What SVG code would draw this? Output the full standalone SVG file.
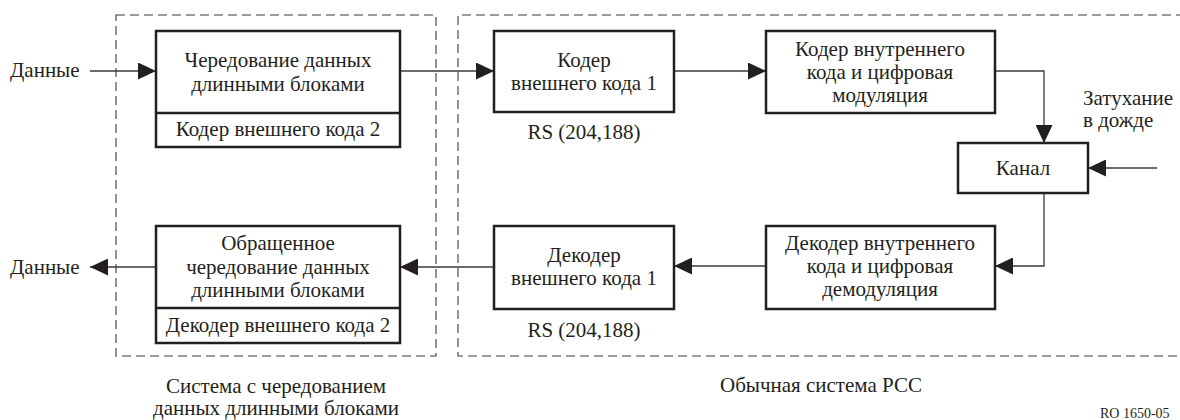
<svg xmlns="http://www.w3.org/2000/svg" width="1180" height="420" viewBox="0 0 1180 420">
<style>
text{font-family:'Liberation Serif','Times New Roman','DejaVu Serif',serif;font-size:21px;fill:#231f20}
.c{text-anchor:middle}
.box{fill:#fff;stroke:#231f20;stroke-width:2.5}
.div{stroke:#231f20;stroke-width:2.5;fill:none}
.dash{fill:none;stroke:#3a3a3a;stroke-width:1.1;stroke-dasharray:9 5}
.ln{fill:none;stroke:#3a3a3a;stroke-width:1.3;marker-end:url(#ah)}
</style>
<defs>
<marker id="ah" viewBox="0 0 18 17" refX="18" refY="8.5" markerWidth="18" markerHeight="17" orient="auto" markerUnits="userSpaceOnUse">
<path d="M0,0 L18,8.5 L0,17 Z" fill="#231f20"/>
</marker>
</defs>
<rect width="1180" height="420" fill="#fff"/>
<g id="frames">
<rect class="dash" x="116" y="15" width="320" height="341"/>
<path class="dash" d="M1185,15 H458 V356 H1185"/>
</g>
<g id="connectors">
<path class="ln" d="M90,71 H156"/>
<path class="ln" d="M400,71 H494"/>
<path class="ln" d="M674,71 H766"/>
<path class="ln" d="M995,71 H1044 V143"/>
<path class="ln" d="M1157,168 H1088"/>
<path class="ln" d="M1044,193 V266 H995"/>
<path class="ln" d="M766,266 H674"/>
<path class="ln" d="M494,267 H400"/>
<path class="ln" d="M156,267 H90"/>
</g>
<g id="in-label"><text x="10" y="77" font-family="Liberation Serif">Данные</text></g>
<g id="out-label"><text x="10" y="274" font-family="Liberation Serif">Данные</text></g>
<g id="interleaver">
<rect class="box" x="156" y="31" width="244" height="116"/>
<path class="div" d="M156,113 H400"/>
<text class="c" x="278" y="67">Чередование данных</text>
<text class="c" x="278" y="91">длинными блоками</text>
<text class="c" x="278" y="136">Кодер внешнего кода 2</text>
</g>
<g id="outer-coder1">
<rect class="box" x="494" y="31" width="180" height="81"/>
<text class="c" x="584" y="67">Кодер</text>
<text class="c" x="584" y="90">внешнего кода 1</text>
<text class="c" x="584" y="139">RS (204,188)</text>
</g>
<g id="inner-coder">
<rect class="box" x="766" y="31" width="229" height="82"/>
<text class="c" x="880" y="56">Кодер внутреннего</text>
<text class="c" x="880" y="79">кода и цифровая</text>
<text class="c" x="880" y="102">модуляция</text>
</g>
<g id="channel">
<rect class="box" x="958" y="143" width="130" height="50"/>
<text class="c" x="1023" y="175">Канал</text>
</g>
<g id="rain-label">
<text x="1083" y="105">Затухание</text>
<text x="1083" y="127">в дожде</text>
</g>
<g id="inner-decoder">
<rect class="box" x="766" y="226" width="229" height="83"/>
<text class="c" x="880" y="250">Декодер внутреннего</text>
<text class="c" x="880" y="273">кода и цифровая</text>
<text class="c" x="880" y="296">демодуляция</text>
</g>
<g id="outer-decoder1">
<rect class="box" x="494" y="226" width="180" height="83"/>
<text class="c" x="584" y="262">Декодер</text>
<text class="c" x="584" y="285">внешнего кода 1</text>
<text class="c" x="584" y="337">RS (204,188)</text>
</g>
<g id="deinterleaver">
<rect class="box" x="156" y="226" width="244" height="117"/>
<path class="div" d="M156,308 H400"/>
<text class="c" x="278" y="250">Обращенное</text>
<text class="c" x="278" y="274">чередование данных</text>
<text class="c" x="278" y="297">длинными блоками</text>
<text class="c" x="278" y="332">Декодер внешнего кода 2</text>
</g>
<g id="captions">
<text class="c" x="276" y="393">Система с чередованием</text>
<text class="c" x="276" y="415">данных длинными блоками</text>
<text class="c" x="821" y="392">Обычная система РСС</text>
<text x="1100" y="418" style="font-size:14px">RO 1650-05</text>
</g>
</svg>
